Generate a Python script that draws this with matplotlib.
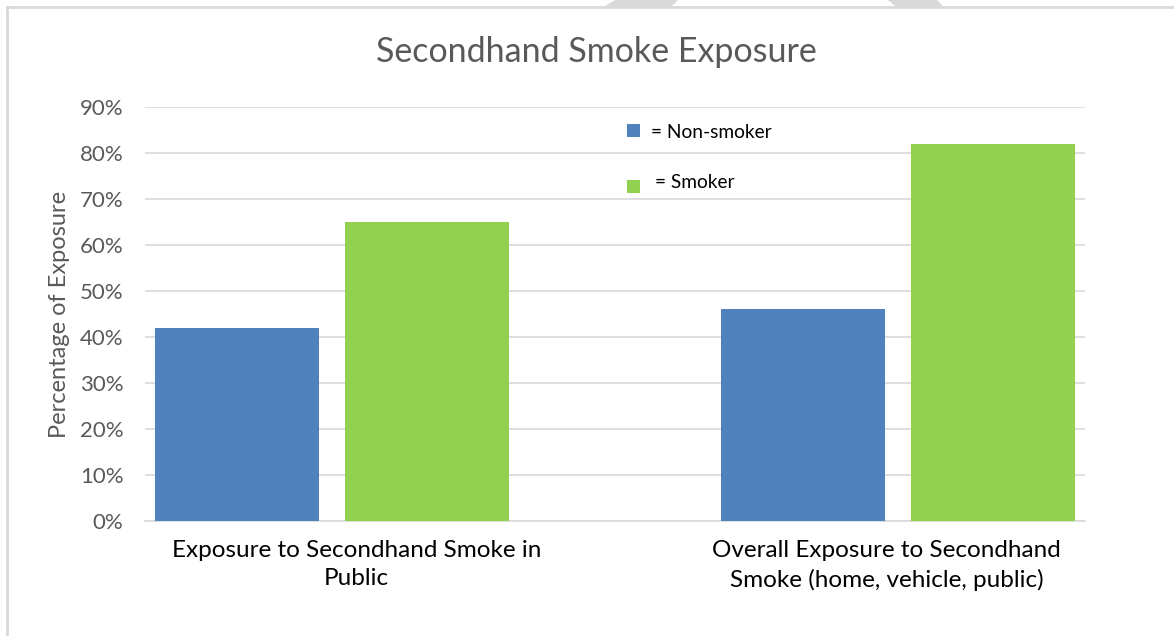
import matplotlib
matplotlib.use('Agg')
import matplotlib.pyplot as plt
from matplotlib.patches import Rectangle, Polygon
from matplotlib.lines import Line2D
import numpy as np

plt.rcParams['font.family'] = ['Lato', 'DejaVu Sans']

categories = ['Exposure to Secondhand Smoke in\nPublic',
              'Overall Exposure to Secondhand\nSmoke (home, vehicle, public)']
non_smoker = [0.42, 0.46]
smoker = [0.65, 0.82]
yticks = [0.0, 0.1, 0.2, 0.3, 0.4, 0.5, 0.6, 0.7, 0.8, 0.9]

BLUE = '#4F81BD'
GREEN = '#92D050'
GRID = '#D9D9D9'
TXT = '#595959'

W, H = 1174, 636
fig = plt.figure(figsize=(W / 100, H / 100), dpi=100)

# page border + the grey shapes peeking in at the top
fig.add_artist(Line2D([7 / W, 7 / W], [0, 1 - 7 / H], color=GRID, lw=2, transform=fig.transFigure))
fig.add_artist(Line2D([7 / W, 1], [1 - 7 / H, 1 - 7 / H], color=GRID, lw=2, transform=fig.transFigure))
for pts in ([(615, 0), (678, 0), (672, 6), (605, 6)],
            [(888, 0), (937, 0), (943, 6), (895, 6)]):
    fig.add_artist(Polygon([(x / W, 1 - y / H) for x, y in pts], closed=True,
                           facecolor=GRID, edgecolor='none', transform=fig.transFigure))

ax = fig.add_axes([145 / W, 1 - 521 / H, (1085 - 145) / W, (521 - 107) / H])

x = np.arange(len(categories))
bw = 0.29
off = 0.168
ax.bar(x - off, non_smoker, bw, color=BLUE, zorder=3)
ax.bar(x + off, smoker, bw, color=GREEN, zorder=3)

ax.set_xlim(-0.33, 1.33)
ax.set_ylim(0, 0.9)
ax.set_yticks(yticks)
ax.set_yticklabels([f'{int(round(v * 100))}%' for v in yticks])
ax.yaxis.grid(True, color=GRID, lw=1.2, zorder=0)
ax.set_axisbelow(True)
for s in ('top', 'right', 'left'):
    ax.spines[s].set_visible(False)
ax.spines['bottom'].set_color(GRID)
ax.spines['bottom'].set_linewidth(1.2)
ax.tick_params(axis='y', length=0, pad=15.5, labelsize=16, labelcolor=TXT)
ax.tick_params(axis='x', length=0, pad=14, labelsize=17.5, labelcolor='black')
ax.set_xticks([0.044, 0.98])
ax.set_xticklabels(categories, linespacing=1.4)

fig.text(60 / W, 1 - 314 / H, 'Percentage of Exposure', rotation=90, ha='center', va='center',
         fontsize=17, color=TXT)
fig.text(596 / W, 1 - 52 / H, 'Secondhand Smoke Exposure', ha='center', va='center',
         fontsize=24.5, color=TXT)

# hand placed key
fig.add_artist(Rectangle((627 / W, 1 - 137 / H), 13 / W, 13 / H, facecolor=BLUE,
                         edgecolor='none', transform=fig.transFigure))
fig.add_artist(Rectangle((627 / W, 1 - 193 / H), 13 / W, 13 / H, facecolor=GREEN,
                         edgecolor='none', transform=fig.transFigure))
fig.text(651 / W, 1 - 133 / H, '= Non-smoker', ha='left', va='center', fontsize=13.8, color='black')
fig.text(655 / W, 1 - 182 / H, '= Smoker', ha='left', va='center', fontsize=13.8, color='black')

fig.savefig('out.png', dpi=100)
